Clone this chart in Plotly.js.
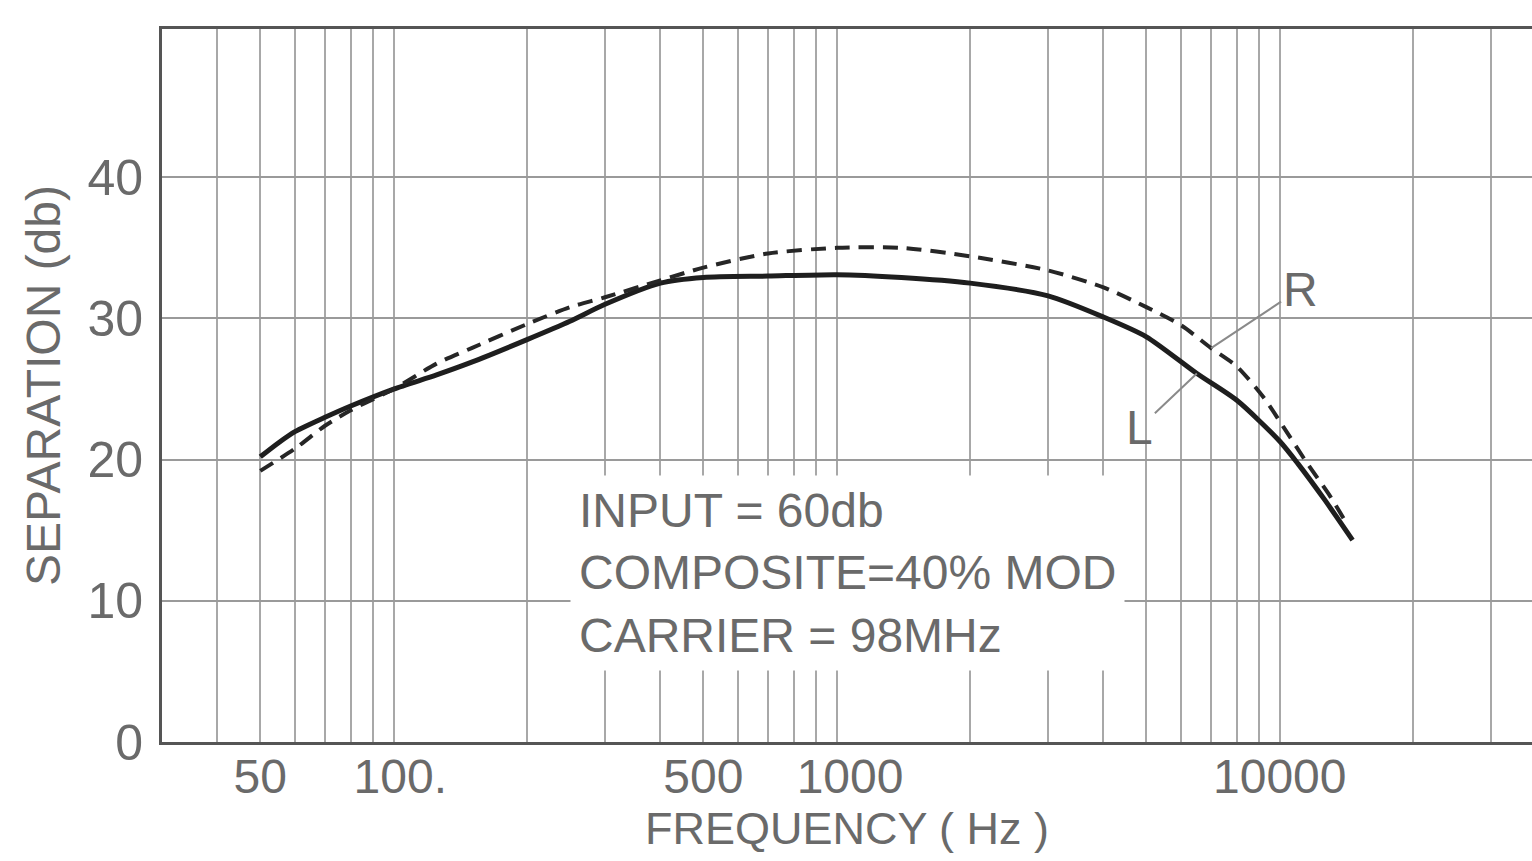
<!DOCTYPE html>
<html><head><meta charset="utf-8">
<script src="https://cdn.plot.ly/plotly-3.0.1.min.js"></script>
<style>html,body{margin:0;padding:0;background:#fff}#chart{width:1532px;height:861px}</style>
</head><body><div id="chart"></div>
<script>
// Left channel (solid)
const freqL = [50, 55, 60, 70, 80, 100, 125, 150, 200, 250, 300, 400, 500, 700, 1000, 1400, 2000, 3000, 4000, 5000, 6500, 8000, 10000, 11000, 12600, 14600];
const sepL  = [20.2, 21.2, 22.0, 23.0, 23.8, 25.0, 26.0, 26.9, 28.5, 29.8, 31.0, 32.5, 32.9, 33.0, 33.1, 32.9, 32.5, 31.6, 30.1, 28.7, 26.1, 24.2, 21.3, 19.7, 17.2, 14.3];
// Right channel (dashed)
const freqR = [50, 60, 70, 80, 100, 125, 150, 200, 250, 300, 400, 500, 700, 1000, 1400, 2000, 3000, 4000, 5000, 6000, 7000, 8000, 9200, 10200, 11500, 13000, 14200];
const sepR  = [19.2, 20.8, 22.4, 23.5, 25.0, 26.8, 27.9, 29.6, 30.8, 31.5, 32.7, 33.6, 34.6, 35.0, 35.0, 34.4, 33.4, 32.2, 30.8, 29.5, 27.9, 26.6, 24.4, 22.3, 19.8, 17.4, 15.4];

const xTickVals = [50, 100, 500, 1000, 10000];
const xTickText = ['50', '\u00a0100.', '500', '\u00a0\u00a01000', '10000'];
const xGridVals = [40, 50, 60, 70, 80, 90, 100, 200, 300, 400, 500, 600, 700, 800, 900, 1000,
                   2000, 3000, 4000, 5000, 6000, 7000, 8000, 9000, 10000, 20000, 30000];
const yTickVals = [0, 10, 20, 30, 40];
const yTickText = ['0', '10', '20', '30', '40'];
const noteLines = ['INPUT = 60db', 'COMPOSITE=40% MOD', 'CARRIER = 98MHz'];
const xTitle = '\u00a0\u00a0\u00a0FREQUENCY ( Hz )';
const yTitle = 'SEPARATION (db)';

const FONT = 'Liberation Sans, Arial, sans-serif';
const TXT = '#6a6a6a';
const GRID = '#a8a8a8';

const traces = [
  {x: freqL, y: sepL, type: 'scatter', mode: 'lines', name: 'L',
   line: {color: '#1e1e1e', width: 5, shape: 'spline', smoothing: 0.7}},
  {x: freqR, y: sepR, type: 'scatter', mode: 'lines', name: 'R',
   line: {color: '#262626', width: 4, dash: '15px,9px', shape: 'spline', smoothing: 0.7}}
];

const layout = {
  width: 1532, height: 861,
  margin: {l: 162, r: 0, t: 29, b: 119},
  paper_bgcolor: '#fff', plot_bgcolor: '#fff',
  showlegend: false,
  font: {family: FONT, color: TXT},
  xaxis: {
    type: 'log',
    range: [Math.log10(30), Math.log10(37100)],
    tickvals: xTickVals, ticktext: xTickText,
    tickfont: {size: 48, color: TXT, family: FONT},
    ticks: '', ticklabelstandoff: -10,
    showgrid: true, gridcolor: GRID, gridwidth: 2,
    minor: {tickvals: xGridVals, showgrid: true, gridcolor: GRID, gridwidth: 2, ticks: ''},
    showline: true, linecolor: '#555', linewidth: 3, mirror: true,
    zeroline: false,
    title: {text: xTitle, font: {size: 45, color: TXT, family: FONT}, standoff: 0}
  },
  yaxis: {
    range: [0, 50.5],
    tickvals: yTickVals, ticktext: yTickText,
    tickfont: {size: 50, color: TXT, family: FONT},
    ticks: '', ticklabelstandoff: 6,
    showgrid: true, gridcolor: '#9a9a9a', gridwidth: 2,
    showline: true, linecolor: '#555', linewidth: 3, mirror: false,
    zeroline: false,
    title: {text: yTitle, font: {size: 48, color: TXT, family: FONT}, standoff: 12}
  },
  annotations: [
    {xref: 'paper', yref: 'paper', x: 0.298, y: 0.375, xanchor: 'left', yanchor: 'top',
     text: noteLines.join('<br>'), align: 'left', showarrow: false,
     font: {size: 48, color: TXT, family: FONT}, bgcolor: '#fff', borderpad: 8},
    {x: Math.log10(7000), y: 27.9, xref: 'x', yref: 'y', text: 'R', showarrow: true,
     arrowhead: 0, arrowwidth: 2, arrowcolor: '#8a8a8a', ax: 89, ay: -59,
     font: {size: 48, color: TXT, family: FONT}},
    {x: Math.log10(6500), y: 26.1, xref: 'x', yref: 'y', text: 'L', showarrow: true,
     arrowhead: 0, arrowwidth: 2, arrowcolor: '#8a8a8a', ax: -57, ay: 54,
     font: {size: 48, color: TXT, family: FONT}}
  ]
};

Plotly.newPlot('chart', traces, layout, {staticPlot: true});
</script>
</body></html>
